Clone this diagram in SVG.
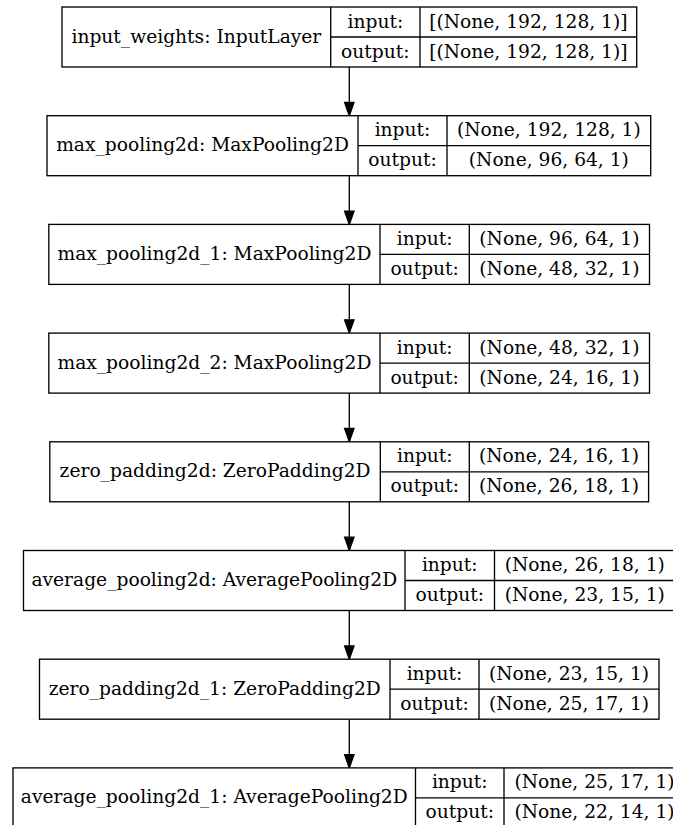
<svg xmlns="http://www.w3.org/2000/svg" width="673" height="825" viewBox="0 0 673 825">
<style>
.b{fill:#fff;stroke:#000;stroke-width:1.33}
.l{stroke:#000;stroke-width:1.33;fill:none}
text{font-family:"DejaVu Serif",serif;font-size:18.67px;fill:#000;text-anchor:middle}
</style>
<defs>
<marker id="ah" markerUnits="userSpaceOnUse" markerWidth="12" markerHeight="16" refX="5" refY="13.3" orient="auto-start-reverse" viewBox="0 0 10 14">
<path d="M0.3,0 L9.7,0 L5,13.3 Z" fill="#000" stroke="#000" stroke-width="1"/>
</marker>
</defs>
<rect width="673" height="825" fill="#fff"/>
<g id="connectors">
<line class="l" x1="349.3" y1="67" x2="349.3" y2="102.4"/>
<path d="M344.6,102.4 L354,102.4 L349.3,115.7 Z" fill="#000" stroke="#000" stroke-width="1.33"/>
<line class="l" x1="349.3" y1="175.7" x2="349.3" y2="211.1"/>
<path d="M344.6,211.1 L354,211.1 L349.3,224.4 Z" fill="#000" stroke="#000" stroke-width="1.33"/>
<line class="l" x1="349.3" y1="284.4" x2="349.3" y2="319.8"/>
<path d="M344.6,319.8 L354,319.8 L349.3,333.1 Z" fill="#000" stroke="#000" stroke-width="1.33"/>
<line class="l" x1="349.3" y1="393.1" x2="349.3" y2="428.5"/>
<path d="M344.6,428.5 L354,428.5 L349.3,441.8 Z" fill="#000" stroke="#000" stroke-width="1.33"/>
<line class="l" x1="349.3" y1="501.8" x2="349.3" y2="537.2"/>
<path d="M344.6,537.2 L354,537.2 L349.3,550.5 Z" fill="#000" stroke="#000" stroke-width="1.33"/>
<line class="l" x1="349.3" y1="610.5" x2="349.3" y2="645.9"/>
<path d="M344.6,645.9 L354,645.9 L349.3,659.2 Z" fill="#000" stroke="#000" stroke-width="1.33"/>
<line class="l" x1="349.3" y1="719.2" x2="349.3" y2="754.6"/>
<path d="M344.6,754.6 L354,754.6 L349.3,767.9 Z" fill="#000" stroke="#000" stroke-width="1.33"/>
</g>
<g id="node-input_weights">
<rect class="b" x="62" y="7" width="574.7" height="60"/>
<line class="l" x1="330.7" y1="7" x2="330.7" y2="67"/>
<line class="l" x1="420" y1="7" x2="420" y2="67"/>
<line class="l" x1="330.7" y1="37" x2="636.7" y2="37"/>
<text x="196.35" y="42.5">input_weights: InputLayer</text>
<text x="375.35" y="27.5">input:</text>
<text x="375.35" y="57.5">output:</text>
<text x="528.35" y="27.5">[(None, 192, 128, 1)]</text>
<text x="528.35" y="57.5">[(None, 192, 128, 1)]</text>
</g>
<g id="node-max_pooling2d">
<rect class="b" x="47" y="115.7" width="603.7" height="60"/>
<line class="l" x1="358" y1="115.7" x2="358" y2="175.7"/>
<line class="l" x1="447" y1="115.7" x2="447" y2="175.7"/>
<line class="l" x1="358" y1="145.7" x2="650.7" y2="145.7"/>
<text x="202.5" y="151.2">max_pooling2d: MaxPooling2D</text>
<text x="402.5" y="136.2">input:</text>
<text x="402.5" y="166.2">output:</text>
<text x="548.85" y="136.2">(None, 192, 128, 1)</text>
<text x="548.85" y="166.2">(None, 96, 64, 1)</text>
</g>
<g id="node-max_pooling2d_1">
<rect class="b" x="48.8" y="224.4" width="600.7" height="60"/>
<line class="l" x1="380" y1="224.4" x2="380" y2="284.4"/>
<line class="l" x1="469.3" y1="224.4" x2="469.3" y2="284.4"/>
<line class="l" x1="380" y1="254.4" x2="649.5" y2="254.4"/>
<text x="214.4" y="259.9">max_pooling2d_1: MaxPooling2D</text>
<text x="424.65" y="244.9">input:</text>
<text x="424.65" y="274.9">output:</text>
<text x="559.4" y="244.9">(None, 96, 64, 1)</text>
<text x="559.4" y="274.9">(None, 48, 32, 1)</text>
</g>
<g id="node-max_pooling2d_2">
<rect class="b" x="48.8" y="333.1" width="600.7" height="60"/>
<line class="l" x1="380" y1="333.1" x2="380" y2="393.1"/>
<line class="l" x1="469.3" y1="333.1" x2="469.3" y2="393.1"/>
<line class="l" x1="380" y1="363.1" x2="649.5" y2="363.1"/>
<text x="214.4" y="368.6">max_pooling2d_2: MaxPooling2D</text>
<text x="424.65" y="353.6">input:</text>
<text x="424.65" y="383.6">output:</text>
<text x="559.4" y="353.6">(None, 48, 32, 1)</text>
<text x="559.4" y="383.6">(None, 24, 16, 1)</text>
</g>
<g id="node-zero_padding2d">
<rect class="b" x="49.8" y="441.8" width="598.8" height="60"/>
<line class="l" x1="380.3" y1="441.8" x2="380.3" y2="501.8"/>
<line class="l" x1="469.3" y1="441.8" x2="469.3" y2="501.8"/>
<line class="l" x1="380.3" y1="471.8" x2="648.6" y2="471.8"/>
<text x="215.05" y="477.3">zero_padding2d: ZeroPadding2D</text>
<text x="424.8" y="462.3">input:</text>
<text x="424.8" y="492.3">output:</text>
<text x="558.95" y="462.3">(None, 24, 16, 1)</text>
<text x="558.95" y="492.3">(None, 26, 18, 1)</text>
</g>
<g id="node-average_pooling2d">
<rect class="b" x="23.5" y="550.5" width="651.5" height="60"/>
<line class="l" x1="405" y1="550.5" x2="405" y2="610.5"/>
<line class="l" x1="494.5" y1="550.5" x2="494.5" y2="610.5"/>
<line class="l" x1="405" y1="580.5" x2="675" y2="580.5"/>
<text x="214.25" y="586">average_pooling2d: AveragePooling2D</text>
<text x="449.75" y="571">input:</text>
<text x="449.75" y="601">output:</text>
<text x="584.75" y="571">(None, 26, 18, 1)</text>
<text x="584.75" y="601">(None, 23, 15, 1)</text>
</g>
<g id="node-zero_padding2d_1">
<rect class="b" x="39.5" y="659.2" width="619.5" height="60"/>
<line class="l" x1="390" y1="659.2" x2="390" y2="719.2"/>
<line class="l" x1="479" y1="659.2" x2="479" y2="719.2"/>
<line class="l" x1="390" y1="689.2" x2="659" y2="689.2"/>
<text x="214.75" y="694.7">zero_padding2d_1: ZeroPadding2D</text>
<text x="434.5" y="679.7">input:</text>
<text x="434.5" y="709.7">output:</text>
<text x="569" y="679.7">(None, 23, 15, 1)</text>
<text x="569" y="709.7">(None, 25, 17, 1)</text>
</g>
<g id="node-average_pooling2d_1">
<rect class="b" x="13" y="767.9" width="672" height="60"/>
<line class="l" x1="415.5" y1="767.9" x2="415.5" y2="827.9"/>
<line class="l" x1="504" y1="767.9" x2="504" y2="827.9"/>
<line class="l" x1="415.5" y1="797.9" x2="685" y2="797.9"/>
<text x="214.25" y="803.4">average_pooling2d_1: AveragePooling2D</text>
<text x="459.75" y="788.4">input:</text>
<text x="459.75" y="818.4">output:</text>
<text x="594.5" y="788.4">(None, 25, 17, 1)</text>
<text x="594.5" y="818.4">(None, 22, 14, 1)</text>
</g>
</svg>
